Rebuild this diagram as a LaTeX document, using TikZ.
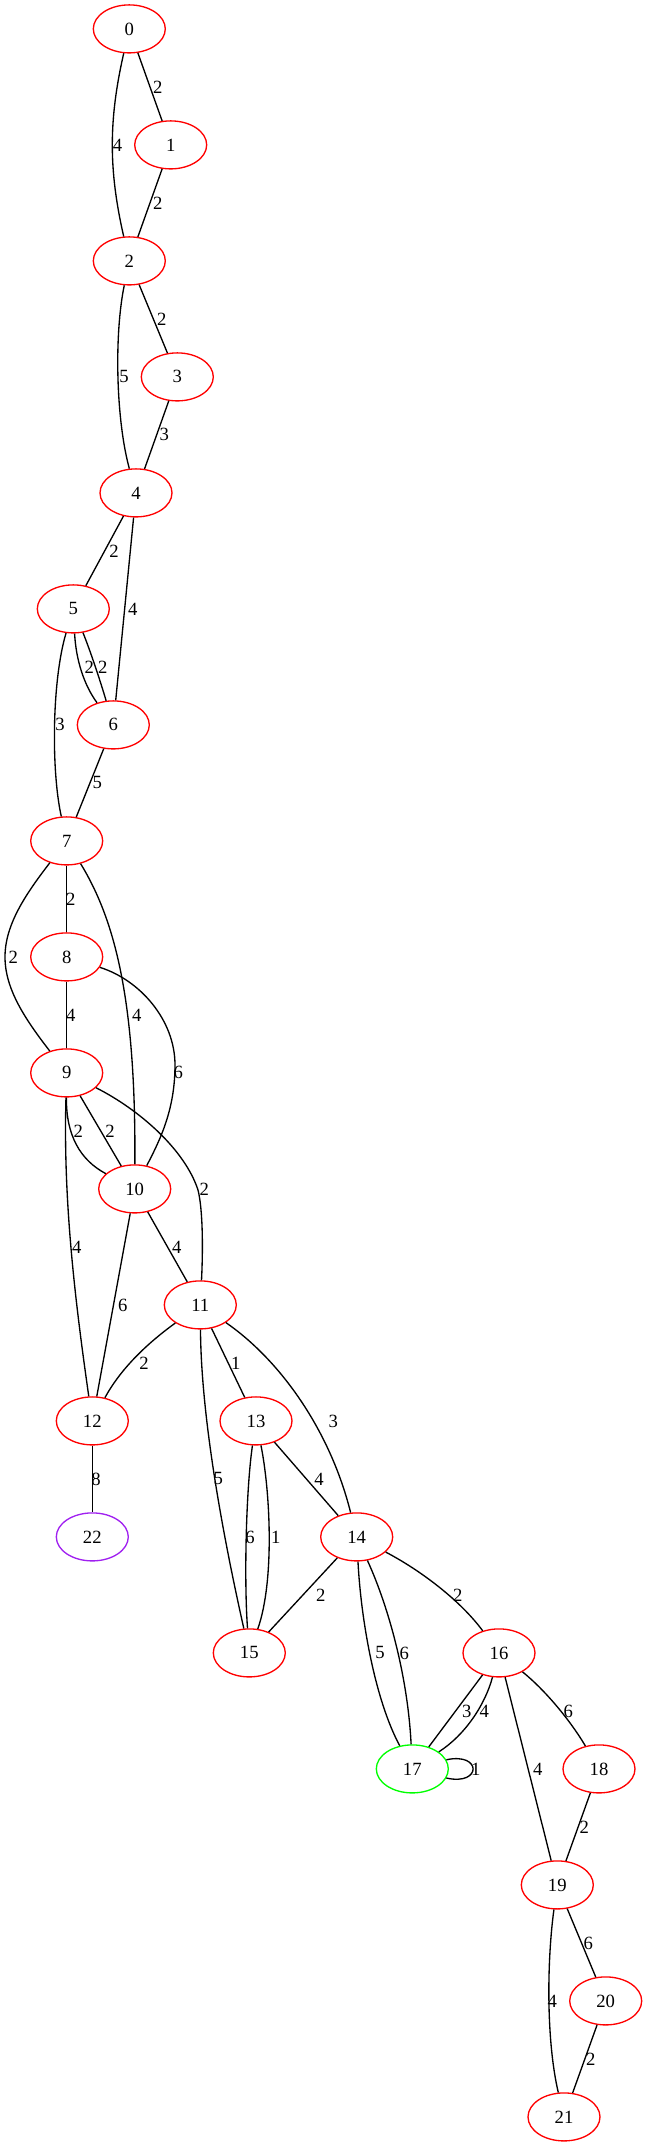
\documentclass[tikz,border=0pt]{standalone}
\usepackage{fontspec}
\setmainfont{Liberation Serif}
\usetikzlibrary{shapes.geometric}
\definecolor{gvred}{RGB}{255,0,0}
\definecolor{gvgreen}{RGB}{0,255,0}
\definecolor{gvpurple}{RGB}{160,32,240}
\begin{document}
\begin{tikzpicture}[x=0.75pt,y=-0.75pt,
  vert/.style={ellipse,draw=gvred,line width=1pt,minimum width=54pt,minimum height=36pt,inner sep=0pt,font=\fontsize{14}{16}\selectfont},
  lbl/.style={inner sep=0pt,font=\fontsize{14}{16}\selectfont},
  conn/.style={draw=black,line width=1pt}]
\useasboundingbox (0,0) rectangle (647,2147);
% nodes
\node[vert] (n0) at (129.3,28.9) {0};
\node[vert] (n1) at (170.7,144.9) {1};
\node[vert] (n2) at (129.3,260.9) {2};
\node[vert] (n3) at (177.3,376.9) {3};
\node[vert] (n4) at (136,492.9) {4};
\node[vert] (n5) at (73.3,608.9) {5};
\node[vert] (n6) at (113.3,724.9) {6};
\node[vert] (n7) at (66.7,840.9) {7};
\node[vert] (n8) at (66.7,956.9) {8};
\node[vert] (n9) at (66.7,1072.9) {9};
\node[vert] (n10) at (134.7,1188.9) {10};
\node[vert] (n11) at (200.3,1304.9) {11};
\node[vert] (n12) at (92.3,1420.9) {12};
\node[vert] (n13) at (256,1420.9) {13};
\node[vert,draw=gvpurple] (n22) at (92.3,1536.9) {22};
\node[vert] (n14) at (356.7,1536.9) {14};
\node[vert] (n15) at (249.3,1652.9) {15};
\node[vert] (n16) at (499,1652.9) {16};
\node[vert,draw=gvgreen] (n17) at (412.3,1768.9) {17};
\node[vert] (n18) at (599,1768.9) {18};
\node[vert] (n19) at (557.3,1884.9) {19};
\node[vert] (n20) at (605.7,2000.9) {20};
\node[vert] (n21) at (564,2116.9) {21};
% edges
\draw[conn] (n0) -- (n1);
\draw[conn] (n0) .. controls (108.5,120) and (108.5,170) .. (n2);
\draw[conn] (n1) -- (n2);
\draw[conn] (n2) -- (n3);
\draw[conn] (n2) .. controls (114,335) and (116,420) .. (n4);
\draw[conn] (n3) -- (n4);
\draw[conn] (n4) -- (n5);
\draw[conn] (n4) -- (n6);
\draw[conn] (n5) .. controls (76,660) and (84,685) .. (n6);
\draw[conn] (n5) .. controls (90,650) and (100,680) .. (n6);
\draw[conn] (n5) .. controls (52,680) and (51,770) .. (n7);
\draw[conn] (n6) -- (n7);
\draw[conn] (n7) -- (n8);
\draw[conn] (n7) .. controls (25,895) and (5,925) .. (5,957) .. controls (5,989) and (25,1019) .. (n9);
\draw[conn] (n7) .. controls (115,920) and (136,1000) .. (n10);
\draw[conn] (n8) -- (n9);
\draw[conn] (n8) .. controls (140,980) and (175,1020) .. (175,1065) .. controls (175,1110) and (160,1140) .. (n10);
\draw[conn] (n9) .. controls (66,1135) and (80,1160) .. (n10);
\draw[conn] (n9) -- (n10);
\draw[conn] (n9) .. controls (140,1110) and (185,1150) .. (198,1190) .. controls (203,1210) and (203,1250) .. (n11);
\draw[conn] (n9) .. controls (63,1200) and (75,1300) .. (n12);
\draw[conn] (n10) -- (n11);
\draw[conn] (n10) -- (n12);
\draw[conn] (n11) .. controls (145,1345) and (120,1370) .. (n12);
\draw[conn] (n11) -- (n13);
\draw[conn] (n11) .. controls (280,1360) and (330,1430) .. (n14);
\draw[conn] (n11) .. controls (201,1400) and (215,1500) .. (n15);
\draw[conn] (n12) -- (n22);
\draw[conn] (n13) -- (n14);
\draw[conn] (n13) .. controls (246,1490) and (244,1580) .. (n15);
\draw[conn] (n13) .. controls (270,1490) and (275,1580) .. (n15);
\draw[conn] (n14) -- (n15);
\draw[conn] (n14) .. controls (420,1570) and (460,1600) .. (n16);
\draw[conn] (n14) .. controls (361,1620) and (375,1700) .. (n17);
\draw[conn] (n14) .. controls (390,1610) and (408,1680) .. (n17);
\draw[conn] (n16) -- (n17);
\draw[conn] (n16) .. controls (485,1705) and (465,1735) .. (n17);
\draw[conn] (n17.15) .. controls (482,1752) and (482,1786) .. (n17.-15);
\draw[conn] (n16) .. controls (545,1690) and (570,1720) .. (n18);
\draw[conn] (n16) -- (n19);
\draw[conn] (n18) -- (n19);
\draw[conn] (n19) -- (n20);
\draw[conn] (n19) .. controls (547,1960) and (546,2040) .. (n21);
\draw[conn] (n20) -- (n21);
% edge labels
\node[lbl] (l01) at (157.7,86.9) {2};
\node[lbl] (l02) at (117.5,144.9) {4};
\node[lbl] (l12) at (157.7,202.9) {2};
\node[lbl] (l23) at (161.7,318.9) {2};
\node[lbl] (l24) at (124,376.9) {5};
\node[lbl] (l34) at (164.3,434.9) {3};
\node[lbl] (l45) at (114,550.9) {2};
\node[lbl] (l46) at (132.7,608.9) {4};
\node[lbl] (l56a) at (89.3,666.9) {2};
\node[lbl] (l56b) at (102.7,666.9) {2};
\node[lbl] (l57) at (60,724.9) {3};
\node[lbl] (l67) at (97.3,782.9) {5};
\node[lbl] (l78) at (70.7,898.9) {2};
\node[lbl] (l79) at (13.3,956.9) {2};
\node[lbl] (l710) at (136.7,1014.9) {4};
\node[lbl] (l89) at (70.7,1014.9) {4};
\node[lbl] (l810) at (178.3,1072.9) {6};
\node[lbl] (l910a) at (78.3,1130.9) {2};
\node[lbl] (l910b) at (110,1130.9) {2};
\node[lbl] (l911) at (204.3,1188.9) {2};
\node[lbl] (l912) at (76.7,1246.9) {4};
\node[lbl] (l1011) at (176.7,1246.9) {4};
\node[lbl] (l1012) at (122.7,1304.9) {6};
\node[lbl] (l1112) at (144,1362.9) {2};
\node[lbl] (l1113) at (235.7,1362.9) {1};
\node[lbl] (l1114) at (333.3,1420.9) {3};
\node[lbl] (l1115) at (218.3,1478.9) {5};
\node[lbl] (l1222) at (96,1478.9) {8};
\node[lbl] (l1314) at (319,1478.9) {4};
\node[lbl] (l1315a) at (250,1536.9) {6};
\node[lbl] (l1315b) at (275.7,1536.9) {1};
\node[lbl] (l1415) at (320.7,1594.9) {2};
\node[lbl] (l1416) at (457.7,1594.9) {2};
\node[lbl] (l1417a) at (380,1652.9) {5};
\node[lbl] (l1417b) at (404.3,1652.9) {6};
\node[lbl] (l1617a) at (466.7,1710.9) {3};
\node[lbl] (l1617b) at (484.3,1710.9) {4};
\node[lbl] (l1717) at (475.7,1768.9) {1};
\node[lbl] (l1618) at (568.3,1710.9) {6};
\node[lbl] (l1619) at (537.7,1768.9) {4};
\node[lbl] (l1819) at (584.3,1826.9) {2};
\node[lbl] (l1920) at (588.3,1942.9) {6};
\node[lbl] (l1921) at (552.3,2000.9) {4};
\node[lbl] (l2021) at (590.7,2058.9) {2};
\end{tikzpicture}
\end{document}
